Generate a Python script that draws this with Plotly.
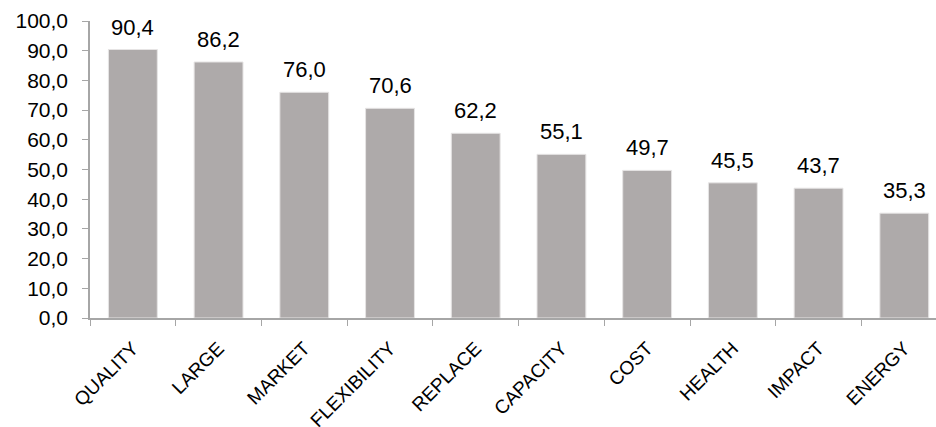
import plotly.graph_objects as go

categories = ["QUALITY", "LARGE", "MARKET", "FLEXIBILITY", "REPLACE",
              "CAPACITY", "COST", "HEALTH", "IMPACT", "ENERGY"]
values = [90.4, 86.2, 76.0, 70.6, 62.2, 55.1, 49.7, 45.5, 43.7, 35.3]
y_ticks = [0, 10, 20, 30, 40, 50, 60, 70, 80, 90, 100]

bar_color = "#AEAAAA"
axis_color = "#A6A6A6"
font_family = "Liberation Sans, Arial, sans-serif"

fig = go.Figure()
fig.add_trace(go.Bar(
    x=categories, y=values,
    marker=dict(color=bar_color, line=dict(color="#E6E4E4", width=1)),
    hoverinfo="skip",
))

for c, v in zip(categories, values):
    fig.add_annotation(
        x=c, y=v, text=f"{v:.1f}".replace(".", ","),
        showarrow=False, yanchor="bottom", yshift=8,
        font=dict(family=font_family, size=22, color="#000000"),
    )

fig.update_layout(
    width=936, height=427,
    margin=dict(l=90, r=0, t=21, b=109),
    plot_bgcolor="white", paper_bgcolor="white",
    showlegend=False,
    bargap=0.43,
    separators=", ",
    font=dict(family=font_family, color="#000000"),
)
fig.update_xaxes(
    type="category",
    range=[-0.5, 9.37],
    automargin=False,
    showline=True, linecolor=axis_color, linewidth=1.5,
    ticks="outside", tickson="boundaries", ticklen=6, tickcolor=axis_color,
    tickangle=-45,
    ticklabelstandoff=10,
    tickfont=dict(family=font_family, size=19, color="#000000"),
    showgrid=False, zeroline=False,
)
fig.update_yaxes(
    range=[0, 100],
    automargin=False,
    tickvals=y_ticks, tickformat=".1f",
    showline=True, linecolor=axis_color, linewidth=1.5,
    ticks="outside", ticklen=6, tickcolor=axis_color,
    ticklabelstandoff=10,
    tickfont=dict(family=font_family, size=21, color="#000000"),
    showgrid=False, zeroline=False,
)

fig.write_html("out.html")
